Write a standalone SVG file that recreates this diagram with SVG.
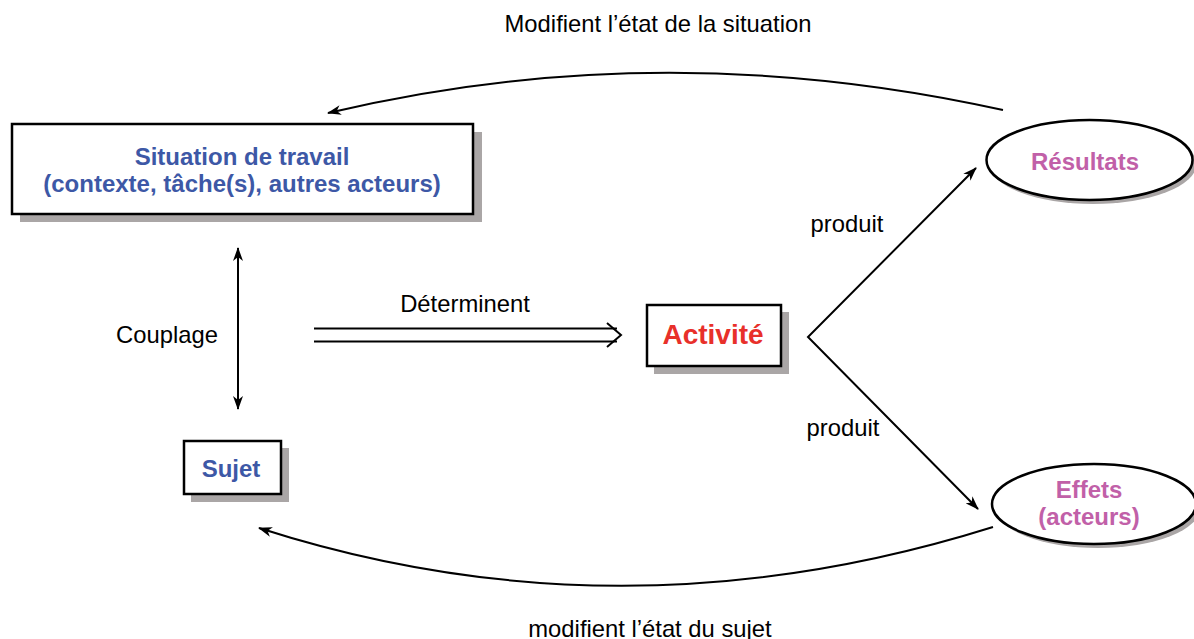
<svg xmlns="http://www.w3.org/2000/svg" width="1194" height="639" viewBox="0 0 1194 639">
<style>
.box{fill:#fff;stroke:#000;stroke-width:2.5}
.sh{fill:#aaa6a6}
.lbl{font-family:"Liberation Sans",Arial,sans-serif;font-size:23.8px;fill:#000;text-anchor:middle}
.blue{font-family:"Liberation Sans",Arial,sans-serif;font-size:24px;font-weight:bold;fill:#3d58a6;text-anchor:middle}
.mag{font-family:"Liberation Sans",Arial,sans-serif;font-size:24px;font-weight:bold;fill:#c160a8;text-anchor:middle}
.red{font-family:"Liberation Sans",Arial,sans-serif;font-size:28px;font-weight:bold;fill:#e8302a;text-anchor:middle}
.ln{fill:none;stroke:#000;stroke-width:2}
</style>
<defs>
<marker id="ah" viewBox="0 0 14 10" refX="13" refY="5" markerWidth="14" markerHeight="10" markerUnits="userSpaceOnUse" orient="auto-start-reverse">
<path d="M0,0 L14,5 L0,10 L4,5 Z" fill="#000"/>
</marker>
</defs>
<rect width="1194" height="639" fill="#fff"/>
<g id="situation">
<rect class="sh" x="20" y="132" width="462" height="90"/>
<rect class="box" x="12" y="124" width="461" height="90"/>
<text class="blue" x="242" y="165">Situation de travail</text>
<text class="blue" x="242" y="192">(contexte, tâche(s), autres acteurs)</text>
</g>
<g id="activite">
<rect class="sh" x="654" y="312" width="135" height="62"/>
<rect class="box" x="647" y="305" width="134" height="61"/>
<text class="red" x="713" y="344">Activité</text>
</g>
<g id="sujet">
<rect class="sh" x="191" y="448" width="98" height="54"/>
<rect class="box" x="184" y="441" width="97" height="53"/>
<text class="blue" x="231" y="477">Sujet</text>
</g>
<g id="resultats">
<ellipse class="sh" cx="1093" cy="164" rx="103.5" ry="40"/>
<ellipse class="box" cx="1089.5" cy="160" rx="103" ry="40"/>
<text class="mag" x="1085" y="170">Résultats</text>
</g>
<g id="effets">
<ellipse class="sh" cx="1098" cy="508" rx="102" ry="40"/>
<ellipse class="box" cx="1094" cy="504" rx="102" ry="40"/>
<text class="mag" x="1089" y="498">Effets</text>
<text class="mag" x="1089" y="525">(acteurs)</text>
</g>
<g id="connectors">
<path class="ln" d="M1003,110 Q660,34 328,113" marker-end="url(#ah)"/>
<path class="ln" d="M993,527 Q620,644 259,528" marker-end="url(#ah)"/>
<line class="ln" x1="238" y1="248" x2="238" y2="409" marker-start="url(#ah)" marker-end="url(#ah)"/>
<line class="ln" x1="314" y1="328.5" x2="617" y2="328.5"/>
<line class="ln" x1="314" y1="341.5" x2="617" y2="341.5"/>
<path class="ln" d="M607,323 L621,335 L607,347"/>
<path class="ln" d="M976,168 L808,337 L978,509" marker-start="url(#ah)" marker-end="url(#ah)"/>
</g>
<g id="labels">
<text class="lbl" x="658" y="32">Modifient l’état de la situation</text>
<text class="lbl" x="650" y="637">modifient l’état du sujet</text>
<text class="lbl" x="847" y="232">produit</text>
<text class="lbl" x="843" y="436">produit</text>
<text class="lbl" x="167" y="343">Couplage</text>
<text class="lbl" x="465" y="312">Déterminent</text>
</g>
</svg>
